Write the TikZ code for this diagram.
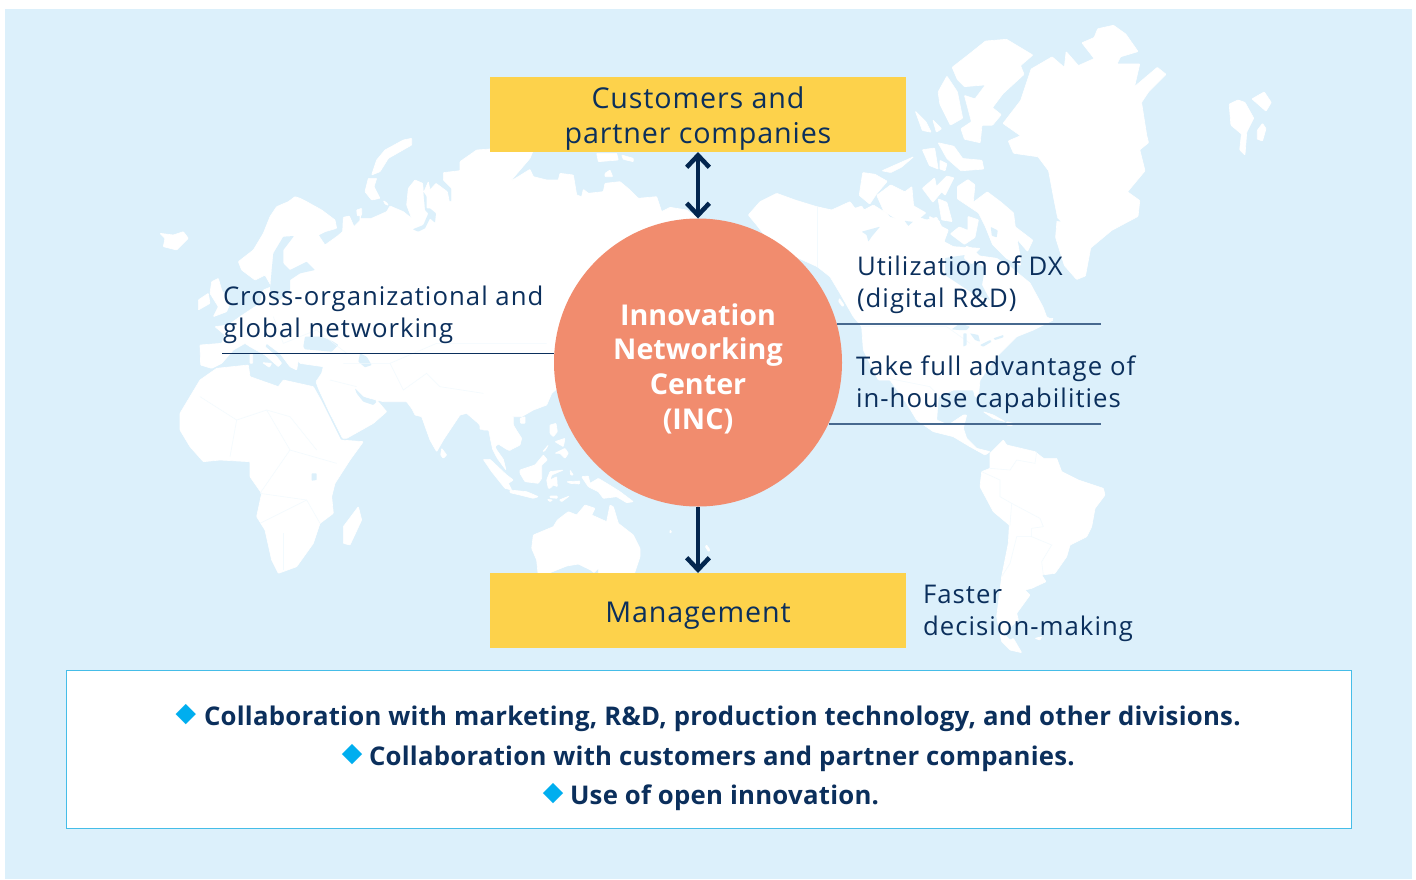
\documentclass[tikz,border=0pt]{standalone}
\usepackage{fontspec}
\setmainfont{Open Sans}
\newfontfamily\symfont{DejaVu Sans}
\usetikzlibrary{arrows.meta,calc}
\definecolor{skyc}{HTML}{DCF0FB}
\definecolor{boxc}{HTML}{FDD24B}
\definecolor{incc}{HTML}{F18C6E}
\definecolor{navyc}{HTML}{0B2F5C}
\definecolor{arrc}{HTML}{03264F}
\definecolor{framec}{HTML}{45BDE8}
\definecolor{diac}{HTML}{00AEEF}
\definecolor{rulec}{HTML}{47698F}
\definecolor{borderc}{HTML}{F2FAFE}
\tikzset{
  land/.style={fill=white,draw=white,line width=0.5pt,line join=round,rounded corners=0.5pt},
  sea/.style={fill=skyc,draw=none,rounded corners=0.5pt},
  cborder/.style={draw=borderc,line width=0.4pt},
  ybox/.style={fill=boxc,draw=none,minimum width=312pt,minimum height=56.25pt,inner sep=0pt,outer sep=0pt,text=navyc,align=center,font=\fontsize{21.5}{26.3}\selectfont\addfontfeatures{LetterSpace=3}},
  sidetext/.style={anchor=base west,inner sep=0pt,outer sep=0pt,text=navyc,align=left,font=\fontsize{19.3}{24}\selectfont\addfontfeatures{LetterSpace=4}},
  boldline/.style={anchor=base west,inner sep=0pt,outer sep=0pt,text=navyc,font=\fontsize{19.3}{24}\selectfont\bfseries\addfontfeatures{LetterSpace=1}},
  dia/.style={inner sep=0pt,outer sep=0pt,text=diac,font=\fontsize{20}{20}\symfont},
  linkline/.style={draw=navyc,line width=0.7pt},
  ruleline/.style={draw=rulec,line width=0.8pt},
  bigarrow/.style={draw=arrc,line width=3.4pt},
}
\begin{document}
\begin{tikzpicture}[x=0.75pt,y=-0.75pt]
\useasboundingbox (0,0) rectangle (1416,879);
\fill[skyc] (5,9) rectangle (1412,879);

% --- map: Europe, Asia, Africa
\begin{scope}[shift={(150,130)},x=0.25pt,y=-0.25pt]
\fill[land] (152,705)--(150,645)--(215,640)--(225,615)--(195,590)--(235,585)--(270,560)--(300,540)--(330,520)--(340,480)--(365,470)--(372,500)--(385,500)--(365,470)--(345,435)--(315,450)--(275,420)--(265,395)--(310,360)--(340,310)--(360,260)--(380,230)--(415,215)--(435,200)--(450,205)--(470,215)--(515,240)--(555,270)--(560,295)--(525,305)--(505,315)--(525,345)--(560,320)--(578,305)--(580,262)--(598,258)--(612,290)--(632,270)--(700,400)--(1300,400)--(1300,700)--(1240,760)--(1205,790)--(1190,825)--(1150,840)--(1115,860)--(1085,860)--(1085,880)--(1115,925)--(1110,945)--(1080,960)--(1060,925)--(1040,930)--(1015,900)--(1000,900)--(985,880)--(950,850)--(930,855)--(880,930)--(860,965)--(840,930)--(815,860)--(795,855)--(785,835)--(770,815)--(700,815)--(680,810)--(640,800)--(615,775)--(620,790)--(640,815)--(670,825)--(680,810)--(710,845)--(670,880)--(590,925)--(578,925)--(535,840)--(505,775)--(498,755)--(515,730)--(520,710)--(450,700)--(445,690)--(440,720)--(420,710)--(390,670)--(350,640)--(345,650)--(380,680)--(395,700)--(385,710)--(345,675)--(300,650)--(285,640)--(250,660)--(215,700)--(185,715)--cycle;
% Africa
\fill[land] (90,850)--(150,750)--(200,715)--(295,705)--(300,740)--(385,770)--(400,750)--(490,770)--(515,815)--(572,930)--(640,935)--(600,990)--(555,1060)--(545,1100)--(550,1150)--(510,1180)--(490,1240)--(440,1310)--(385,1330)--(365,1290)--(345,1200)--(320,1160)--(335,1090)--(300,1040)--(300,995)--(210,990)--(160,995)--(120,950)--(90,900)--cycle;
\fill[land] (625,1130)--(635,1170)--(600,1245)--(580,1240)--(580,1190)--cycle;
\fill[land] (30,310)--(70,315)--(100,305)--(115,325)--(80,360)--(40,350)--(45,325)--cycle;
\fill[land] (185,455)--(205,445)--(215,480)--(240,520)--(230,545)--(190,560)--(205,530)--(180,490)--cycle;
\fill[land] (145,510)--(175,490)--(180,520)--(145,540)--cycle;
\fill[land] (875,955)--(890,975)--(880,985)--(872,975)--cycle;
\fill[land] (1110,865)--(1125,860)--(1125,880)--(1112,880)--cycle;
\fill[land] (620,240)--(635,235)--(635,255)--(622,258)--cycle;
\fill[land] (300,672)--(308,672)--(308,700)--(300,700)--cycle;
\fill[land] (338,698)--(365,700)--(358,712)--cycle;
% Baltic, Black Sea, Caspian, Gulf, Victoria
\fill[sea] (360,480)--(365,420)--(370,370)--(400,320)--(432,318)--(400,360)--(400,400)--(420,420)--(470,395)--(495,420)--(450,430)--(420,450)--(420,480)--(390,510)--(370,510)--cycle;
\fill[sea] (460,650)--(465,620)--(515,620)--(550,635)--(565,645)--(545,665)--(490,660)--(465,658)--cycle;
\fill[sea] (630,670)--(650,680)--(665,705)--(645,712)--(625,695)--cycle;
\fill[sea] (615,775)--(640,800)--(680,815)--(670,825)--(640,815)--(620,790)--cycle;
\fill[sea] (485,1030)--(500,1030)--(500,1050)--(485,1052)--cycle;
% faint country borders
\draw[cborder] (150,800)--(260,870)--(350,840)--(420,860)--(500,960);
\draw[cborder] (260,870)--(240,980);
\draw[cborder] (350,840)--(420,960)--(330,1090);
\draw[cborder] (420,960)--(560,1000);
\draw[cborder] (330,1090)--(470,1110)--(510,1180);
\draw[cborder] (330,1180)--(470,1110);
\draw[cborder] (400,1210)--(400,1320);
\draw[cborder] (720,700)--(760,780)--(830,730)--(870,770)--(1000,790);
\draw[cborder] (580,700)--(720,700)--(860,640)--(1190,640);
\draw[cborder] (370,560)--(400,640)--(500,600)--(590,670);
\draw[cborder] (540,750)--(620,770);
\end{scope}

% --- map: north coast of Russia
\begin{scope}[shift={(360,130)},x=0.25pt,y=-0.25pt]
\fill[land] (0,240)--(5,250)--(0,265)--(35,265)--(80,245)--(90,228)--(130,245)--(155,265)--(140,225)--(145,175)--(165,150)--(188,160)--(190,190)--(205,155)--(210,180)--(228,160)--(262,185)--(268,215)--(275,215)--(275,175)--(250,150)--(250,128)--(300,122)--(300,95)--(350,60)--(390,57)--(520,60)--(510,85)--(450,155)--(510,118)--(520,140)--(560,150)--(595,150)--(600,130)--(640,135)--(650,195)--(665,200)--(670,178)--(685,190)--(730,185)--(735,160)--(780,155)--(810,180)--(835,205)--(890,200)--(905,245)--(930,232)--(980,240)--(1010,262)--(1010,500)--(0,500)--cycle;
\fill[sea] (190,185)--(195,240)--(205,250)--(190,285)--(158,298)--(175,305)--(195,295)--(210,265)--(225,278)--(228,250)--(210,235)--(200,235)--(200,200)--cycle;
\fill[land] (155,25)--(130,30)--(75,60)--(50,90)--(35,135)--(60,125)--(85,85)--(155,45)--cycle;
\fill[land] (25,145)--(50,145)--(42,170)--(60,205)--(35,210)--(15,185)--cycle;
\fill[land] (70,212)--(80,218)--(85,226)--(75,222)--cycle;
\fill[land] (710,70)--(770,70)--(775,90)--(715,95)--cycle;
\fill[land] (785,75)--(820,85)--(820,95)--(790,88)--cycle;
\fill[land] (735,130)--(750,120)--(758,140)--(735,140)--cycle;
\end{scope}

% --- map: South East Asia and Australia
\begin{scope}[shift={(470,420)},x=0.25pt,y=-0.25pt]
\fill[land] (30,-10)--(30,28)--(56,28)--(62,60)--(68,88)--(82,115)--(108,150)--(100,118)--(80,90)--(75,80)--(85,72)--(110,88)--(120,92)--(150,50)--(130,15)--(130,-10)--cycle;
\fill[land] (40,118)--(60,118)--(110,165)--(130,180)--(115,190)--(125,210)--(105,205)--(65,155)--cycle;
\fill[land] (150,150)--(195,135)--(220,105)--(232,120)--(215,135)--(215,175)--(205,190)--(165,185)--(150,160)--cycle;
\fill[land] (120,210)--(170,215)--(205,230)--(190,235)--(150,225)--(120,218)--cycle;
\fill[land] (240,228)--(262,228)--(262,235)--(240,233)--cycle;
\fill[land] (268,240)--(298,228)--(275,245)--cycle;
\fill[land] (232,238)--(248,240)--(240,245)--cycle;
\fill[land] (240,155)--(280,150)--(245,165)--(240,180)--(260,170)--(262,200)--(250,195)--(240,205)--(235,205)--(230,180)--cycle;
\fill[land] (300,150)--(310,165)--(302,165)--cycle;
\fill[land] (290,185)--(330,183)--(328,192)--(300,190)--cycle;
\fill[land] (335,170)--(355,168)--(360,190)--(385,175)--(410,190)--(450,215)--(490,245)--(470,248)--(440,230)--(400,235)--(385,215)--(355,200)--(345,185)--cycle;
\fill[land] (240,15)--(258,10)--(262,35)--(250,50)--(240,40)--cycle;
\fill[land] (255,65)--(285,55)--(280,80)--cycle;
\fill[land] (255,100)--(285,85)--(295,100)--(285,115)--(270,100)--cycle;
\fill[land] (218,95)--(235,75)--(225,92)--cycle;
% Australia
\fill[land] (190,345)--(250,320)--(262,300)--(295,275)--(320,285)--(345,255)--(375,265)--(365,285)--(410,305)--(420,255)--(430,260)--(445,310)--(490,345)--(510,385)--(510,410)--(490,470)--(385,470)--(385,445)--(372,458)--(362,450)--(325,432)--(290,438)--(240,458)--(205,470)--(200,420)--(185,385)--cycle;
\fill[land] (600,330)--(605,335)--(600,340)--cycle;
\fill[land] (710,375)--(720,390)--(716,395)--(706,380)--cycle;
\end{scope}

% --- map: North America
\begin{scope}[shift={(740,130)},x=0.25pt,y=-0.25pt]
\fill[land] (25,255)--(60,215)--(110,190)--(165,210)--(230,230)--(275,240)--(330,215)--(345,235)--(365,228)--(372,240)--(400,225)--(440,250)--(450,262)--(490,270)--(505,290)--(535,262)--(560,270)--(590,262)--(605,290)--(625,300)--(612,335)--(640,350)--(720,355)--(700,375)--(770,385)--(810,410)--(870,459)--(909,531)--(920,561)--(940,570)--(880,600)--(830,620)--(770,680)--(720,750)--(715,800)--(705,800)--(700,780)--(640,780)--(595,800)--(590,870)--(625,885)--(670,855)--(680,855)--(670,895)--(680,925)--(710,955)--(750,965)--(735,975)--(690,950)--(640,920)--(580,905)--(530,870)--(500,820)--(450,750)--(415,750)--(370,660)--(365,590)--(340,560)--(300,490)--(270,440)--(232,410)--(100,350)--(50,285)--cycle;
\fill[sea] (365,305)--(420,290)--(395,320)--(385,335)--(380,315)--cycle;
\draw[cborder] (232,230)--(232,410);
\draw[cborder] (365,590)--(620,590)--(690,640);
\draw[cborder] (445,745)--(570,770)--(600,800);
\fill[land] (298,505)--(312,525)--(308,530)--(296,515)--cycle;
\fill[land] (730,845)--(760,855)--(795,875)--(760,865)--cycle;
\fill[land] (800,875)--(820,880)--(815,888)--(800,885)--cycle;
\fill[land] (900,565)--(940,565)--(920,580)--cycle;
\end{scope}
% Hudson Bay and Great Lakes
\fill[sea] (945,258)--(965,255)--(985,268)--(982,285)--(990,300)--(975,295)--(960,285)--(945,275)--cycle;
\begin{scope}[shift={(820,300)},x=0.25pt,y=-0.25pt]
\fill[sea] (395,88)--(420,70)--(450,80)--(440,90)--(415,90)--cycle;
\fill[sea] (430,100)--(440,100)--(440,135)--(430,140)--cycle;
\fill[sea] (450,100)--(475,105)--(480,125)--(465,120)--cycle;
\fill[sea] (480,135)--(510,120)--(515,125)--(490,140)--cycle;
\fill[sea] (520,115)--(550,105)--(550,112)--(525,120)--cycle;
\end{scope}

% --- map: Arctic and Greenland, Svalbard
\begin{scope}[shift={(740,20)},x=0.263pt,y=-0.263pt]
\fill[land] (750,295)--(800,230)--(830,140)--(890,105)--(925,135)--(930,90)--(965,130)--(1010,110)--(975,65)--(1010,50)--(1020,25)--(1065,15)--(1100,40)--(1135,90)--(1085,105)--(1075,125)--(1140,125)--(1125,190)--(1190,135)--(1215,155)--(1165,205)--(1145,235)--(1160,330)--(1165,350)--(1140,370)--(1155,430)--(1105,490)--(1140,515)--(1135,560)--(1060,600)--(1000,650)--(985,730)--(960,740)--(925,700)--(900,620)--(905,560)--(895,510)--(880,430)--(850,390)--(780,380)--(765,345)--(800,330)--cycle;
\fill[sea] (885,545)--(915,575)--(890,570)--cycle;
\fill[land] (605,135)--(650,100)--(700,60)--(760,55)--(835,100)--(800,130)--(810,155)--(750,210)--(720,250)--(745,270)--(720,300)--(690,300)--(685,350)--(640,340)--(630,310)--(660,290)--(640,215)--(670,225)--(700,185)--(640,190)--(620,170)--cycle;
\fill[land] (590,160)--(620,205)--(635,280)--(600,300)--(570,240)--(565,205)--cycle;
\fill[land] (500,260)--(530,290)--(545,320)--(520,315)--cycle;
\fill[land] (550,285)--(575,310)--(560,320)--cycle;
\fill[land] (565,350)--(610,360)--(635,395)--(690,400)--(695,425)--(630,430)--(590,395)--cycle;
\fill[land] (520,370)--(555,365)--(565,425)--(540,415)--cycle;
\fill[land] (570,400)--(590,410)--(585,430)--(570,425)--cycle;
\fill[land] (405,430)--(495,390)--(460,420)--(430,435)--cycle;
\fill[land] (350,435)--(385,440)--(420,460)--(390,495)--(370,525)--(340,500)--cycle;
\fill[land] (390,500)--(430,470)--(470,490)--(490,475)--(495,530)--(530,550)--(500,575)--(450,570)--(410,545)--cycle;
\fill[land] (520,480)--(555,450)--(560,475)--(590,445)--(610,450)--(585,500)--(575,490)--(550,520)--cycle;
\fill[land] (565,510)--(590,520)--(605,575)--(575,570)--cycle;
\fill[land] (620,475)--(650,455)--(670,470)--(665,520)--(705,490)--(745,520)--(780,550)--(785,590)--(835,628)--(820,660)--(790,625)--(800,680)--(800,700)--(760,680)--(720,640)--(700,590)--(680,550)--(650,530)--(620,510)--cycle;
\fill[sea] (715,590)--(735,600)--(732,620)--(718,615)--cycle;
\fill[land] (645,645)--(660,650)--(690,680)--(660,695)--(640,680)--cycle;
\fill[land] (540,560)--(570,575)--(560,590)--(545,585)--cycle;
\fill[land] (650,560)--(680,570)--(670,620)--(640,640)--(600,610)--(625,590)--(650,600)--cycle;
\fill[land] (1395,240)--(1420,228)--(1440,235)--(1465,280)--(1445,320)--(1440,385)--(1425,370)--(1430,325)--(1400,300)--cycle;
\fill[land] (1460,225)--(1495,205)--(1515,235)--(1500,260)--cycle;
\fill[land] (1475,315)--(1490,295)--(1500,310)--(1490,345)--(1475,340)--cycle;
\end{scope}

% --- map: South America
\begin{scope}[shift={(960,430)},x=0.25pt,y=-0.25pt]
\fill[land] (60,170)--(65,125)--(90,115)--(90,70)--(130,30)--(140,45)--(225,65)--(250,85)--(290,85)--(305,125)--(355,150)--(430,175)--(435,195)--(405,235)--(395,290)--(380,320)--(330,345)--(320,380)--(285,430)--(245,435)--(258,455)--(215,475)--(195,480)--(210,495)--(170,550)--(175,570)--(130,610)--(150,630)--(160,625)--(185,668)--(150,660)--(125,635)--(110,560)--(125,440)--(145,340)--(148,285)--(100,245)--cycle;
\fill[land] (225,625)--(245,620)--(240,630)--cycle;
\draw[cborder] (65,125)--(120,150)--(120,200)--(155,220)--(240,265)--(250,290)--(215,295)--(215,320)--(170,320)--(150,400)--(125,440);
\draw[cborder] (90,115)--(150,120)--(170,90)--(225,100)--(230,65);
\draw[cborder] (155,220)--(150,285);
\draw[cborder] (215,320)--(275,345)--(245,395)--(250,435);
\end{scope}

% --- diagram
\node[ybox] (cust) at (698,114.5) {\rule{0pt}{22.5pt}Customers and\\partner companies};
\node[ybox] (mgmt) at (698,610.5) {\rule{0pt}{23pt}Management};
\node[circle,fill=incc,minimum size=216pt,inner sep=0pt,outer sep=0pt,text=white,align=center,font=\fontsize{21.5}{25.9}\selectfont\bfseries] (inc) at (698,362.5) {\rule{0pt}{25.5pt}Innovation\\Networking\\Center\\(INC)};

\draw[bigarrow,{Straight Barb[length=9pt,width=17pt]}-{Straight Barb[length=9pt,width=17pt]}] (cust.south) -- (inc.north);
\draw[bigarrow,-{Straight Barb[length=9pt,width=17pt]}] (inc.south) -- (mgmt.north);

\coordinate (lineL) at (222,353.5);
\coordinate (lineRa) at (1101,324);
\coordinate (lineRb) at (1101,424);
\draw[linkline] (lineL) -- (lineL -| inc.west);
\draw[ruleline] (inc.15.5 |- lineRa) -- (lineRa);
\draw[ruleline] (inc.-25.3 |- lineRb) -- (lineRb);

\node[sidetext] (tcross) at (223,337) {Cross-organizational and\\global networking};
\node[sidetext] (tdx) at (857,307) {Utilization of DX\\(digital R\&D)};
\node[sidetext] (tfull) at (856,407) {Take full advantage of\\in-house capabilities};
\node[sidetext] (tfast) at (923,635) {Faster\\decision-making};

\node[draw=framec,fill=white,line width=0.75pt,minimum width=963.5pt,minimum height=118.5pt,inner sep=0pt] (panel) at (709,749) {};
\node[dia] (d1) at (186,715) {◆};
\node[dia] (d2) at (352,755) {◆};
\node[dia] (d3) at (553,794) {◆};
\node[boldline] (b1) at (204,725) {Collaboration with marketing, R\&D, production technology, and other divisions.};
\node[boldline] (b2) at (369,765) {Collaboration with customers and partner companies.};
\node[boldline] (b3) at (570,804) {Use of open innovation.};
\end{tikzpicture}
\end{document}
